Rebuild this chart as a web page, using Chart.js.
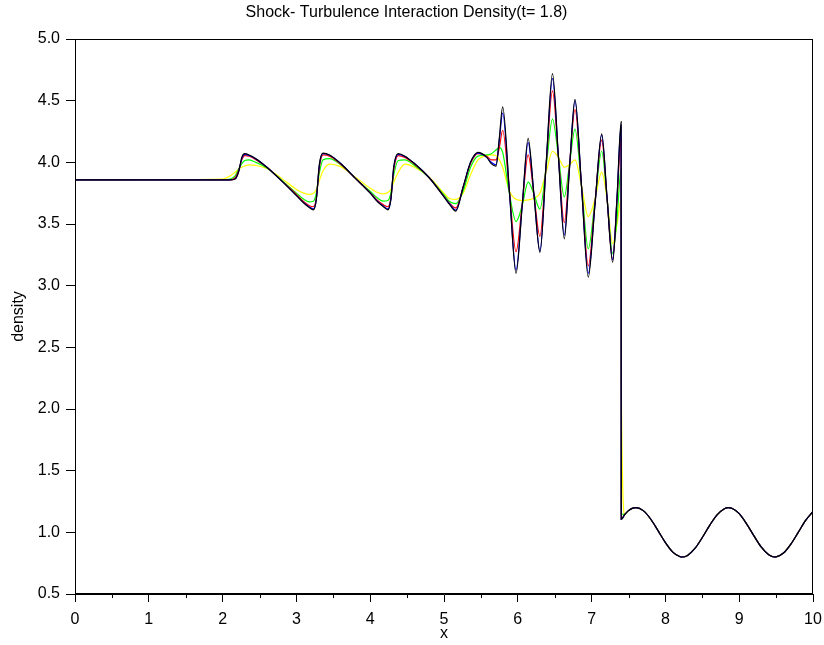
<!DOCTYPE html>
<html>
<head>
<meta charset="utf-8">
<script src="https://cdn.jsdelivr.net/npm/chart.js@4.4.1/dist/chart.umd.min.js"></script>
<style>
  html, body { margin: 0; padding: 0; background: #fff; }
  canvas { display: block; }
</style>
</head>
<body>
<canvas id="densityChart" width="824" height="645"></canvas>
<script>
// x positions before the shock (shared by the five runs)
const leftXs = [
    0, 2.0, 2.1, 2.17, 2.22, 2.26, 2.30, 2.36, 2.45,
    2.6, 2.8, 3.0, 3.1, 3.17, 3.23, 3.27, 3.31, 3.36, 3.45,
    3.6, 3.8, 4.0, 4.1, 4.18, 4.24, 4.28, 4.32, 4.38, 4.47,
    4.6, 4.8, 5.0, 5.08, 5.16, 5.26, 5.36, 5.46, 5.58, 5.64, 5.705,
    5.75, 5.795, 5.885, 5.976, 6.06, 6.14, 6.22, 6.30, 6.385, 6.47,
    6.55, 6.63, 6.70, 6.775, 6.865, 6.955, 7.045, 7.137, 7.21, 7.285, 7.345, 7.40, 7.402
];

// density per run
const blackLeft = [
    3.857, 3.857, 3.857, 3.865, 3.93, 4.04, 4.07, 4.06, 4.03,
    3.96, 3.85, 3.73, 3.67, 3.635, 3.615, 3.70, 3.98, 4.075, 4.06,
    3.99, 3.87, 3.75, 3.68, 3.64, 3.615, 3.70, 3.97, 4.07, 4.05,
    3.99, 3.875, 3.72, 3.655, 3.605, 3.80, 4.00, 4.08, 4.04, 3.99, 3.97,
    4.20, 4.45, 3.78, 3.10, 3.65, 4.195, 3.73, 3.27, 4.00, 4.72,
    4.05, 3.38, 3.945, 4.51, 3.79, 3.07, 3.65, 4.23, 3.71, 3.19, 3.72, 4.33, 1.105
];
const blueLeft = [
    3.857, 3.857, 3.857, 3.868, 3.93, 4.03, 4.065, 4.055, 4.028,
    3.96, 3.85, 3.732, 3.672, 3.64, 3.622, 3.70, 3.97, 4.07, 4.058,
    3.99, 3.87, 3.752, 3.683, 3.645, 3.622, 3.70, 3.96, 4.065, 4.048,
    3.99, 3.875, 3.722, 3.66, 3.612, 3.80, 4.00, 4.075, 4.04, 4.00, 3.98,
    4.18, 4.40, 3.77, 3.127, 3.65, 4.16, 3.73, 3.28, 3.99, 4.68,
    4.05, 3.41, 3.95, 4.50, 3.79, 3.10, 3.65, 4.22, 3.71, 3.21, 3.72, 4.30, 1.105
];
const redLeft = [
    3.857, 3.857, 3.858, 3.875, 3.94, 4.02, 4.055, 4.05, 4.022,
    3.96, 3.85, 3.74, 3.68, 3.65, 3.64, 3.71, 3.95, 4.06, 4.05,
    3.985, 3.87, 3.755, 3.69, 3.655, 3.64, 3.71, 3.94, 4.055, 4.04,
    3.985, 3.875, 3.725, 3.665, 3.63, 3.80, 3.99, 4.07, 4.05, 4.02, 4.02,
    4.12, 4.26, 3.77, 3.275, 3.66, 4.06, 3.73, 3.40, 3.99, 4.58,
    4.05, 3.51, 3.97, 4.43, 3.80, 3.16, 3.67, 4.18, 3.70, 3.21, 3.70, 4.20, 1.11
];
const greenLeft = [
    3.857, 3.858, 3.865, 3.89, 3.95, 3.99, 4.015, 4.02, 4.00,
    3.955, 3.855, 3.75, 3.70, 3.68, 3.685, 3.75, 3.91, 4.02, 4.03,
    3.98, 3.87, 3.765, 3.71, 3.685, 3.69, 3.75, 3.90, 4.015, 4.02,
    3.975, 3.875, 3.735, 3.68, 3.665, 3.77, 3.96, 4.05, 4.06, 4.07, 4.10,
    4.12, 4.08, 3.75, 3.52, 3.65, 3.84, 3.74, 3.62, 3.97, 4.35,
    4.05, 3.72, 3.98, 4.27, 3.80, 3.30, 3.68, 4.09, 3.70, 3.26, 3.55, 3.95, 1.15
];
const yellowLeft = [
    3.857, 3.865, 3.89, 3.92, 3.945, 3.96, 3.97, 3.98, 3.975,
    3.95, 3.87, 3.78, 3.75, 3.74, 3.75, 3.78, 3.85, 3.93, 3.985,
    3.965, 3.88, 3.79, 3.755, 3.745, 3.755, 3.78, 3.84, 3.92, 3.985,
    3.96, 3.88, 3.75, 3.705, 3.70, 3.75, 3.90, 4.02, 4.055, 4.06, 4.055,
    4.02, 3.96, 3.77, 3.70, 3.69, 3.695, 3.71, 3.75, 3.92, 4.09,
    4.04, 3.96, 3.98, 4.02, 3.80, 3.56, 3.70, 3.92, 3.70, 3.34, 3.50, 3.70, 2.2
];

// behind the shock all runs coincide
const rightXs = [
    7.45, 7.5, 7.55, 7.6, 7.7, 7.8, 7.9, 8.0, 8.1, 8.2, 8.225, 8.3, 8.4, 8.5,
    8.6, 8.7, 8.8, 8.85, 8.9, 9.0, 9.1, 9.2, 9.3, 9.4, 9.475, 9.5, 9.6, 9.7, 9.8, 9.9, 10.0
];
const rightYs = [
    1.145, 1.176, 1.194, 1.20, 1.176, 1.108, 1.014, 0.917, 0.84, 0.802, 0.80, 0.813, 0.869, 0.958,
    1.057, 1.142, 1.192, 1.20, 1.195, 1.151, 1.069, 0.971, 0.88, 0.818, 0.80, 0.801, 0.832, 0.905, 1.0, 1.097, 1.169
];

const FONT = { family: '"Liberation Sans", Arial, Helvetica, sans-serif', size: 16 };

function makePoints(leftYs) {
    const pts = leftXs.map((x, i) => ({ x: x, y: leftYs[i] }));
    rightXs.forEach((x, i) => pts.push({ x: x, y: rightYs[i] }));
    return pts;
}

function makeDataset(label, color, leftYs) {
    return {
        label: label,
        data: makePoints(leftYs),
        borderColor: color,
        backgroundColor: color,
        borderWidth: 1.2,
        pointRadius: 0,
        cubicInterpolationMode: 'monotone',
        fill: false
    };
}

// frame round the plot and the short minor ticks on x
const framePlugin = {
    id: 'frame',
    afterDraw(chart) {
        const { ctx, chartArea } = chart;
        const xScale = chart.scales.x;
        ctx.save();
        ctx.strokeStyle = '#000';
        ctx.lineWidth = 1;
        ctx.strokeRect(chartArea.left + 0.5, chartArea.top + 0.5,
            chartArea.right - chartArea.left - 1, chartArea.bottom - chartArea.top - 1);
        ctx.beginPath();
        for (let v = 0.5; v < 10; v += 1) {
            const px = Math.round(xScale.getPixelForValue(v)) + 0.5;
            ctx.moveTo(px, chartArea.bottom);
            ctx.lineTo(px, chartArea.bottom + 4);
        }
        ctx.stroke();
        ctx.restore();
    }
};

new Chart(document.getElementById('densityChart'), {
    type: 'line',
    data: {
        datasets: [
            makeDataset('black', '#000000', blackLeft),
            makeDataset('blue', '#0000ff', blueLeft),
            makeDataset('red', '#ff0000', redLeft),
            makeDataset('green', '#00ff00', greenLeft),
            makeDataset('yellow', '#ffff00', yellowLeft)
        ]
    },
    options: {
        responsive: false,
        animation: false,
        layout: { padding: { left: 0, right: 11, top: 0, bottom: 0 } },
        plugins: {
            legend: { display: false },
            tooltip: { enabled: false },
            title: {
                display: true,
                text: 'Shock- Turbulence Interaction Density(t= 1.8)',
                color: '#000',
                font: { family: FONT.family, size: 16, weight: 'normal' },
                padding: { top: 3.4, bottom: 16.4 }
            }
        },
        scales: {
            x: {
                type: 'linear',
                min: 0,
                max: 10,
                ticks: {
                    stepSize: 1,
                    color: '#000',
                    font: FONT,
                    padding: 7.5,
                    maxRotation: 0,
                    callback: v => String(v)
                },
                grid: { drawOnChartArea: false, drawTicks: true, tickLength: 8, color: '#000' },
                border: { display: true, color: '#000' },
                title: {
                    display: true,
                    text: 'x',
                    color: '#000',
                    font: FONT,
                    padding: { top: 0, bottom: 1.4 }
                },
                afterFit: scale => {
                    scale.height = 51;
                    scale.paddingLeft = 0;
                    scale.paddingRight = 0;
                }
            },
            y: {
                type: 'linear',
                min: 0.5,
                max: 5.0,
                ticks: {
                    stepSize: 0.5,
                    color: '#000',
                    font: FONT,
                    padding: 6,
                    callback: v => v.toFixed(1)
                },
                grid: { drawOnChartArea: false, drawTicks: true, tickLength: 9, color: '#000' },
                border: { display: true, color: '#000' },
                title: {
                    display: true,
                    text: 'density',
                    color: '#000',
                    font: FONT,
                    padding: { top: 8.9, bottom: 0 }
                },
                afterFit: scale => { scale.width = 75; }
            }
        }
    },
    plugins: [framePlugin]
});
</script>
</body>
</html>
